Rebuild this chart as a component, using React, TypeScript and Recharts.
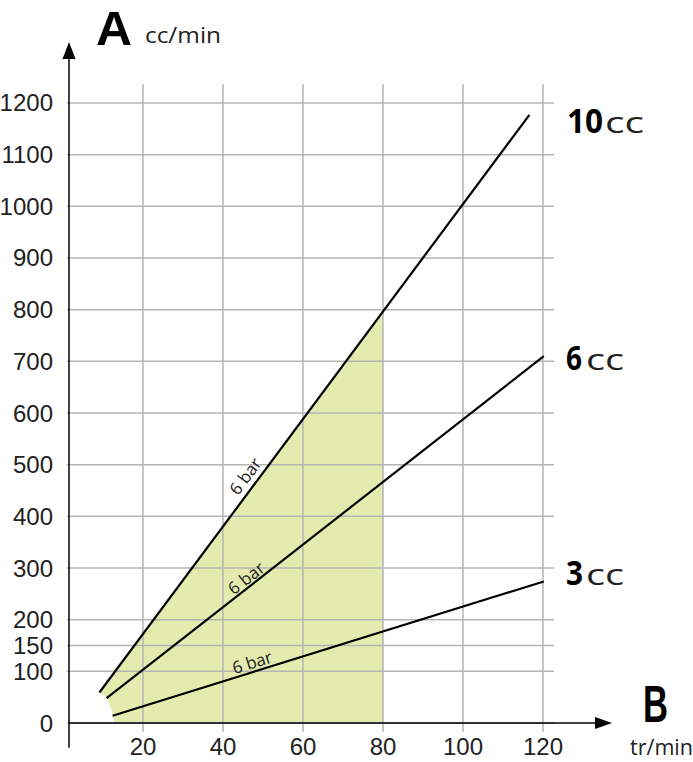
import {
  ComposedChart,
  Line,
  Area,
  XAxis,
  YAxis,
  ReferenceLine,
  ReferenceDot,
} from "recharts";

// tick values
const rpmTicks = [20, 40, 60, 80, 100, 120];
const flowTicks = [0, 100, 150, 200, 300, 400, 500, 600, 700, 800, 900, 1000, 1100, 1200];

// the three pump lines (tr/min -> cc/min)
const line10Rpm = [9.1, 116.6];
const line10Flow = [59, 1177];
const line6Rpm = [10.9, 120.2];
const line6Flow = [48, 710];
const line3Rpm = [12.4, 120.2];
const line3Flow = [14, 274];

// green working zone (low / high edge)
const shadeRpm = [9.1, 11, 12.3, 12.8, 80];
const shadeLow = [59, 48, 21, 0, 0];
const shadeHigh = [59, 79, 92, 97, 797];

// "6 bar" tags
const barRpm = [45.5, 45.75, 47.25];
const barFlow = [478, 281, 118];
const barText = ["6 bar", "6 bar", "6 bar"];

const toPts = (xs: number[], ys: number[]) => xs.map((x, i) => ({ x, y: ys[i] }));

const line10 = toPts(line10Rpm, line10Flow);
const line6 = toPts(line6Rpm, line6Flow);
const line3 = toPts(line3Rpm, line3Flow);
const shade = shadeRpm.map((x, i) => ({ x, range: [shadeLow[i], shadeHigh[i]] }));

const W = 693;
const H = 762;
const GRID = "#b4b4b4";
const TXT = "#222";
const TICK_FONT = "'Liberation Sans Narrow', 'Liberation Sans', sans-serif";
const FONT = "'Open Sans', sans-serif";
const BIG = "'Liberation Sans', Arial, sans-serif";

const X_MIN = 1.5;
const X_MAX = 137.25;
const Y_MAX = 1318;
const GRID_TOP = 1236;
const ANGLES = [-53.3, -38, -17.3];

export default function App() {
  return (
    <div style={{ position: "absolute", left: 0, top: 0, width: W, height: H, background: "#fff" }}>
      <ComposedChart
        width={W}
        height={H}
        margin={{ top: 42, right: 81, bottom: 9, left: 9 }}
      >
        <XAxis
          type="number"
          dataKey="x"
          domain={[X_MIN, X_MAX]}
          ticks={rpmTicks}
          interval={0}
          allowDataOverflow
          axisLine={false}
          tickLine={false}
          tickSize={0}
          tickMargin={15}
          height={30}
          tick={{ fontFamily: TICK_FONT, fontSize: 24, fill: TXT }}
        />
        <YAxis
          type="number"
          domain={[0, Y_MAX]}
          ticks={flowTicks}
          interval={0}
          allowDataOverflow
          axisLine={false}
          tickLine={false}
          tickSize={0}
          tickMargin={16}
          width={60}
          tick={{ fontFamily: TICK_FONT, fontSize: 24, fill: TXT }}
        />

        <Area
          data={shade}
          dataKey="range"
          type="linear"
          stroke="none"
          fill="#e3ecae"
          fillOpacity={1}
          isAnimationActive={false}
          zIndex={100}
        />

        {flowTicks.map((v) => (
          <ReferenceLine
            key={"h" + v}
            segment={[{ x: 1, y: v }, { x: 122.75, y: v }]}
            stroke={GRID}
            strokeWidth={1.5}
            ifOverflow="visible"
            zIndex={200}
          />
        ))}
        {rpmTicks.map((v) => (
          <ReferenceLine
            key={"v" + v}
            segment={[{ x: v, y: -17 }, { x: v, y: GRID_TOP }]}
            stroke={GRID}
            strokeWidth={1.5}
            ifOverflow="visible"
            zIndex={200}
          />
        ))}

        {/* axes with arrows */}
        <ReferenceLine
          segment={[{ x: X_MIN, y: -48 }, { x: X_MIN, y: Y_MAX - 20 }]}
          stroke="#000"
          strokeWidth={1.5}
          ifOverflow="visible"
          zIndex={300}
        />
        <ReferenceLine
          segment={[{ x: X_MIN, y: 0 }, { x: X_MAX - 3, y: 0 }]}
          stroke="#000"
          strokeWidth={1.5}
          ifOverflow="visible"
          zIndex={300}
        />
        <ReferenceDot
          x={X_MIN}
          y={Y_MAX}
          ifOverflow="visible"
          zIndex={300}
          shape={(p: any) => (
            <polygon
              points={`${p.cx},${p.cy} ${p.cx - 6.5},${p.cy + 17} ${p.cx + 6.5},${p.cy + 17}`}
              fill="#000"
            />
          )}
        />
        <ReferenceDot
          x={X_MAX}
          y={0}
          ifOverflow="visible"
          zIndex={300}
          shape={(p: any) => (
            <polygon
              points={`${p.cx},${p.cy} ${p.cx - 17},${p.cy - 6} ${p.cx - 17},${p.cy + 6}`}
              fill="#000"
            />
          )}
        />

        <Line data={line10} dataKey="y" type="linear" stroke="#000" strokeWidth={2.2} dot={false} isAnimationActive={false} zIndex={300} />
        <Line data={line6} dataKey="y" type="linear" stroke="#000" strokeWidth={2.2} dot={false} isAnimationActive={false} zIndex={300} />
        <Line data={line3} dataKey="y" type="linear" stroke="#000" strokeWidth={2.2} dot={false} isAnimationActive={false} zIndex={300} />

        {barRpm.map((x, i) => (
          <ReferenceDot
            key={"b" + i}
            x={x}
            y={barFlow[i]}
            ifOverflow="visible"
            zIndex={400}
            shape={(p: any) => (
              <text
                x={p.cx}
                y={p.cy}
                transform={`rotate(${ANGLES[i]} ${p.cx} ${p.cy})`}
                textAnchor="middle"
                dominantBaseline="central"
                fontFamily={FONT}
                fontSize={17}
                fill={TXT}
              >
                {barText[i]}
              </text>
            )}
          />
        ))}
      </ComposedChart>

      <svg
        width={W}
        height={H}
        style={{ position: "absolute", left: 0, top: 0, pointerEvents: "none" }}
      >
        <g fontFamily={FONT} fill="#000">
          <text x={96} y={45} fontFamily={BIG} fontSize={49} fontWeight={700} textLength={36} lengthAdjust="spacingAndGlyphs">A</text>
          <text x={145} y={43} fontSize={21} fill={TXT} textLength={76} lengthAdjust="spacingAndGlyphs">cc/min</text>
          <text x={643} y={722} fontFamily={BIG} fontSize={51} fontWeight={700} textLength={25} lengthAdjust="spacingAndGlyphs">B</text>
          <text x={630} y={755} fontSize={21} fill={TXT} textLength={63} lengthAdjust="spacingAndGlyphs">tr/min</text>

          <text x={567} y={133} fontSize={34} fontWeight={700} textLength={36} lengthAdjust="spacingAndGlyphs">10</text>
          <text x={605} y={133} fontSize={30} fill={TXT} textLength={39} lengthAdjust="spacingAndGlyphs">cc</text>

          <text x={566} y={370} fontSize={34} fontWeight={700} textLength={16} lengthAdjust="spacingAndGlyphs">6</text>
          <text x={586} y={370} fontSize={30} fill={TXT} textLength={38} lengthAdjust="spacingAndGlyphs">cc</text>

          <text x={566} y={585} fontSize={34} fontWeight={700} textLength={17} lengthAdjust="spacingAndGlyphs">3</text>
          <text x={586} y={585} fontSize={30} fill={TXT} textLength={38} lengthAdjust="spacingAndGlyphs">cc</text>
        </g>
      </svg>
    </div>
  );
}
